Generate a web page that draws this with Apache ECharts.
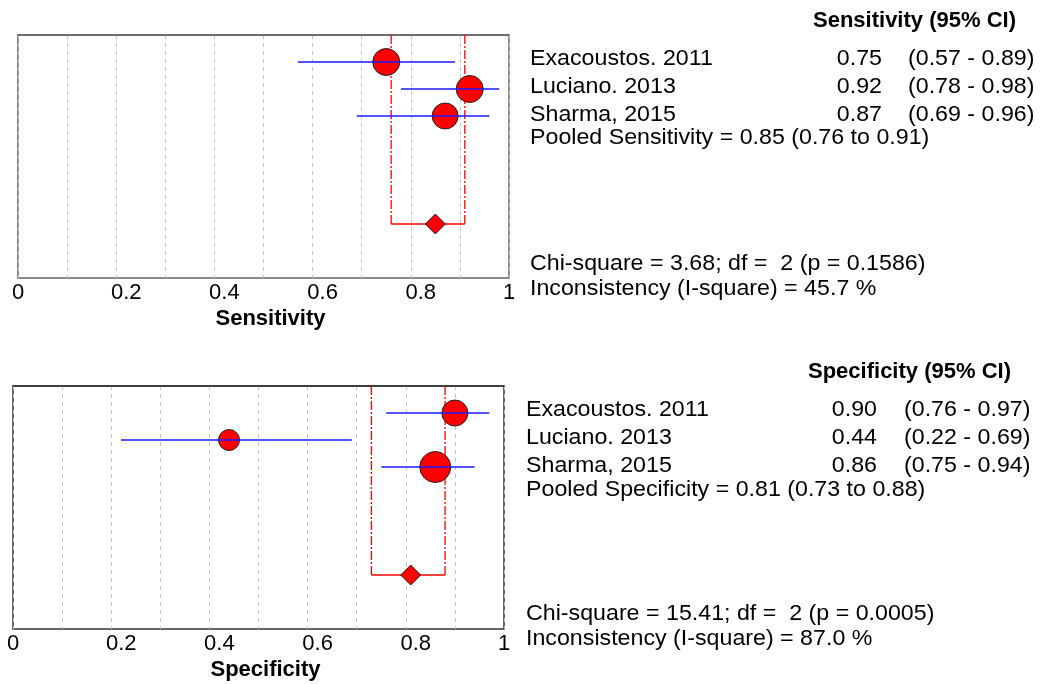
<!DOCTYPE html>
<html>
<head>
<meta charset="utf-8">
<script src="https://cdn.jsdelivr.net/npm/echarts@6/dist/echarts.min.js"></script>
<style>
html,body{margin:0;padding:0;background:#fff;}
#chart{width:1040px;height:684px;}
</style>
</head>
<body>
<div id="chart"></div>
<script>
// ---------- DATA ----------
const studies = ['Exacoustos. 2011', 'Luciano. 2013', 'Sharma, 2015'];
const sensEst = [0.75, 0.92, 0.87];
const sensLo  = [0.57, 0.78, 0.69];
const sensHi  = [0.89, 0.98, 0.96];
const sensPooled = [0.85, 0.76, 0.91];      // estimate, lower, upper
const sensStats  = ['3.68', '2', '0.1586', '45.7']; // chi-square, df, p, I-square
const specEst = [0.90, 0.44, 0.86];
const specLo  = [0.76, 0.22, 0.75];
const specHi  = [0.97, 0.69, 0.94];
const specPooled = [0.81, 0.73, 0.88];
const specStats  = ['15.41', '2', '0.0005', '87.0'];
const xTickLabels = ['0', '0.2', '0.4', '0.6', '0.8', '1'];

// ---------- STYLE ----------
const sensMarkerSize = [27, 27, 26];
const specMarkerSize = [26, 21, 31];
const FONT = '"Liberation Sans", Arial, sans-serif';
const FS = 22;
const TEXT_SCALE_X = 1.055;
const studyRows = [1, 2, 3];
const pooledRow = 7;

const chart = echarts.init(document.getElementById('chart'));

function fmt(v) { return v.toFixed(2); }

function xAxisFor(gridIndex, name, borderColor) {
  return {
    type: 'value', gridIndex: gridIndex, min: 0, max: 1, interval: 0.1,
    name: name, nameLocation: 'middle', nameGap: 30,
    nameTextStyle: { fontFamily: FONT, fontSize: FS, fontWeight: 'bold', color: '#000', padding: [0, 0, 0, 14] },
    axisLine: { show: true, lineStyle: { color: borderColor, width: 1.5 } },
    axisTick: { show: false },
    axisLabel: {
      margin: 4, fontFamily: FONT, fontSize: FS, color: '#000',
      formatter: function (v) {
        const k = Math.round(v * 10);
        if (k % 2 !== 0) return '';
        const lab = xTickLabels[k / 2];
        return (k === 0 || k === 10) ? '{e|' + lab + '}' : '{m|' + lab + '}';
      },
      rich: {
        e: { fontFamily: FONT, fontSize: FS, color: '#000' },
        m: { fontFamily: FONT, fontSize: FS, color: '#000', padding: [0, 0, 0, 20] }
      }
    },
    splitLine: { show: true, lineStyle: { color: '#c4c4c4', type: [4, 4], width: 1 } }
  };
}
function yAxisFor(gridIndex) {
  return { type: 'value', gridIndex: gridIndex, min: 0, max: 9, inverse: true, show: false };
}

function ciSeries(idx, lo, hi) {
  return {
    type: 'custom', xAxisIndex: idx, yAxisIndex: idx, z: 5, silent: true,
    data: lo.map((l, i) => [l, hi[i], studyRows[i]]),
    renderItem: function (params, api) {
      const a = api.coord([api.value(0), api.value(2)]);
      const b = api.coord([api.value(1), api.value(2)]);
      return { type: 'line', shape: { x1: a[0], y1: a[1], x2: b[0], y2: b[1] },
               style: { stroke: '#1a1aff', lineWidth: 1.3 } };
    }
  };
}
function pointSeries(idx, est, sizes) {
  return {
    type: 'scatter', xAxisIndex: idx, yAxisIndex: idx, z: 4, silent: true,
    data: est.map((e, i) => ({ value: [e, studyRows[i]], symbolSize: sizes[i] })),
    symbol: 'circle',
    itemStyle: { color: '#ff0000', borderColor: '#222', borderWidth: 1, opacity: 1 }
  };
}
function pooledSeries(idx, pooled) {
  return [{
    type: 'custom', xAxisIndex: idx, yAxisIndex: idx, z: 3, silent: true,
    data: [[pooled[1], pooled[2], pooledRow]],
    renderItem: function (params, api) {
      const lo = api.value(0), hi = api.value(1), r = api.value(2);
      const t1 = api.coord([lo, 0]), b1 = api.coord([lo, r]);
      const t2 = api.coord([hi, 0]), b2 = api.coord([hi, r]);
      const dash = { stroke: '#ff0000', lineWidth: 1.3, lineDash: [9, 2, 2, 2] };
      return { type: 'group', children: [
        { type: 'line', shape: { x1: t1[0], y1: t1[1], x2: b1[0], y2: b1[1] }, style: dash },
        { type: 'line', shape: { x1: t2[0], y1: t2[1], x2: b2[0], y2: b2[1] }, style: dash },
        { type: 'line', shape: { x1: b1[0], y1: b1[1], x2: b2[0], y2: b2[1] },
          style: { stroke: '#ff0000', lineWidth: 1.3 } }
      ] };
    }
  }, {
    type: 'scatter', xAxisIndex: idx, yAxisIndex: idx, z: 4, silent: true,
    data: [[pooled[0], pooledRow]], symbol: 'diamond', symbolSize: [20, 20],
    itemStyle: { color: '#ff0000', borderColor: '#222', borderWidth: 1, opacity: 1 }
  }];
}

function txt(x, y, text, align, bold) {
  return { type: 'text', x: x, y: y, silent: true, scaleX: bold ? 1 : TEXT_SCALE_X,
    style: { text: text, x: 0, y: 0, align: align || 'left', verticalAlign: 'middle',
      font: (bold ? 'bold ' : '') + FS + 'px ' + FONT, fill: '#000' } };
}

function tableText(opts) {
  const els = [];
  els.push(txt(opts.headerX, opts.headerY, opts.header, 'left', true));
  studies.forEach((s, i) => {
    const y = opts.rowY[i];
    els.push(txt(opts.nameX, y, s, 'left'));
    els.push(txt(opts.valX, y, fmt(opts.est[i]), 'right'));
    els.push(txt(opts.ciX, y, '(' + fmt(opts.lo[i]) + ' - ' + fmt(opts.hi[i]) + ')', 'left'));
  });
  els.push(txt(opts.nameX, opts.pooledY, opts.pooledLabel + ' = ' + fmt(opts.pooled[0]) +
    ' (' + fmt(opts.pooled[1]) + ' to ' + fmt(opts.pooled[2]) + ')', 'left'));
  els.push(txt(opts.nameX, opts.chiY, 'Chi-square = ' + opts.stats[0] + '; df =  ' + opts.stats[1] +
    ' (p = ' + opts.stats[2] + ')', 'left'));
  els.push(txt(opts.nameX, opts.chiY + 25, 'Inconsistency (I-square) = ' + opts.stats[3] + ' %', 'left'));
  return els;
}

const graphics = [].concat(
  tableText({ header: 'Sensitivity (95% CI)', headerX: 813, headerY: 21,
    nameX: 530, valX: 882, ciX: 908, rowY: [59, 87, 115], pooledY: 138, chiY: 264,
    est: sensEst, lo: sensLo, hi: sensHi, pooled: sensPooled, pooledLabel: 'Pooled Sensitivity', stats: sensStats }),
  tableText({ header: 'Specificity (95% CI)', headerX: 808, headerY: 372,
    nameX: 526, valX: 877, ciX: 904, rowY: [410, 438, 466], pooledY: 490, chiY: 614,
    est: specEst, lo: specLo, hi: specHi, pooled: specPooled, pooledLabel: 'Pooled Specificity', stats: specStats })
);

const option = {
  backgroundColor: '#ffffff',
  animation: false,
  grid: [
    { left: 18, top: 35, width: 491, height: 243, show: true, borderColor: '#666', borderWidth: 1.5, containLabel: false },
    { left: 13, top: 386, width: 491, height: 243, show: true, borderColor: '#333', borderWidth: 1.5, containLabel: false }
  ],
  xAxis: [xAxisFor(0, 'Sensitivity', '#666'), xAxisFor(1, 'Specificity', '#333')],
  yAxis: [yAxisFor(0), yAxisFor(1)],
  series: [].concat(
    pooledSeries(0, sensPooled), [pointSeries(0, sensEst, sensMarkerSize), ciSeries(0, sensLo, sensHi)],
    pooledSeries(1, specPooled), [pointSeries(1, specEst, specMarkerSize), ciSeries(1, specLo, specHi)]
  ),
  graphic: graphics
};
chart.setOption(option);
</script>
</body>
</html>
